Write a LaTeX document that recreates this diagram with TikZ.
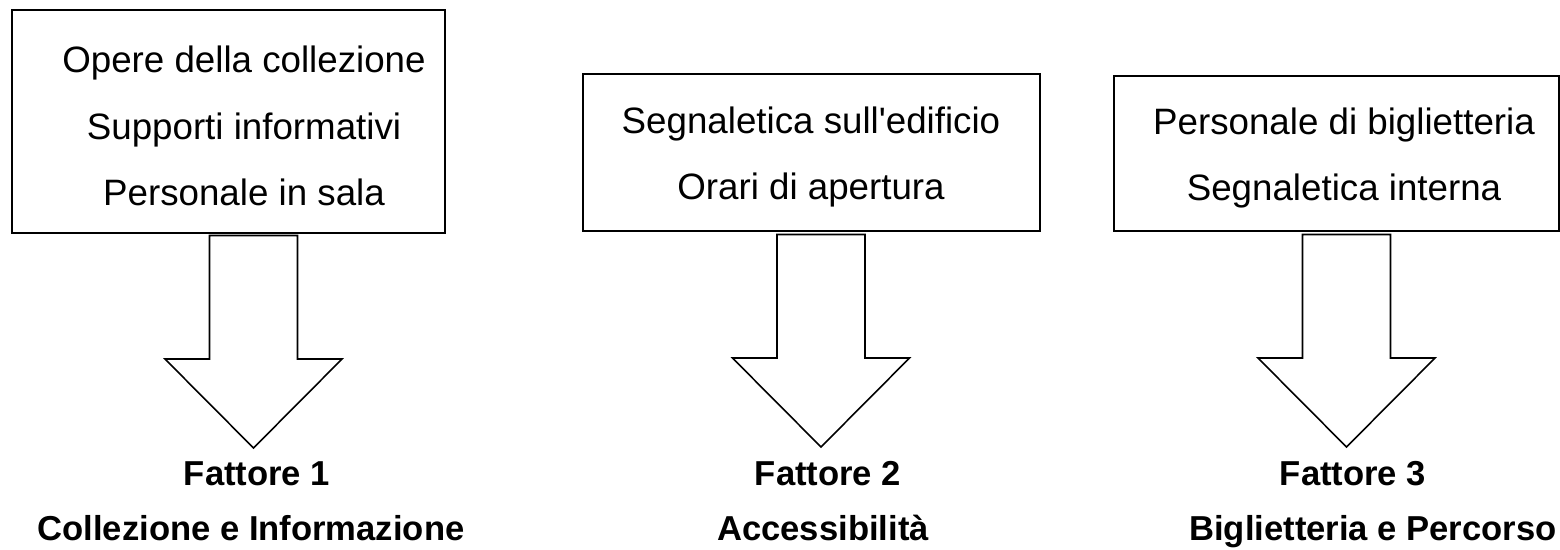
\documentclass[tikz,border=0pt]{standalone}
\usepackage{fontspec}
\setmainfont{Liberation Sans}
\usepackage{tikz}
\usetikzlibrary{positioning, calc}
\tikzset{
	listbox/.style={
			rectangle,
			draw=black,
			line width=0.9pt,
			fill=white,
			inner sep=0pt
		},
	listtext/.style={
			align=center,
			inner sep=0pt,
			font=\fontsize{20.9}{37.7}\selectfont
		},
	bigarrow/.style={
			draw=black,
			line width=0.9pt,
			fill=white,
			line join=miter
		},
	factortext/.style={
			anchor=base,
			inner sep=0pt,
			font=\fontsize{19.7}{24}\selectfont\bfseries
		}
}

\begin{document}
\begin{tikzpicture}[x=0.02cm, y=-0.02cm]
\useasboundingbox (0,0) rectangle (1560,549);

\node[listbox, minimum width=8.66cm, minimum height=4.46cm] (b1) at (228.5,121.5) {};
\node[listbox, minimum width=9.14cm, minimum height=3.14cm] (b2) at (811.5,152.5) {};
\node[listbox, minimum width=8.9cm, minimum height=3.1cm] (b3) at (1336.5,153.5) {};

\node[listtext] (t1) at (244,126)
  {Opere della collezione\\Supporti informativi\\Personale in sala};
\node[listtext] (t2) at (811,157)
  {Segnaletica sull\textquotesingle edificio\\Orari di apertura};
\node[listtext] (t3) at (1344,158)
  {Personale di biglietteria\\Segnaletica interna};

\node[factortext] (f1) at (257,485) {Fattore 1};
\node[factortext] (f2) at (828,485) {Fattore 2};
\node[factortext] (f3) at (1353,485) {Fattore 3};

\node[factortext] (n1) at (251,540) {Collezione e Informazione};
\node[factortext] (n2) at (823,540) {Accessibilità};
\node[factortext] (n3) at (1373,540) {Biglietteria e Percorso};

\coordinate (a1) at (253.5,235.5);
\coordinate (a2) at (821,234.5);
\coordinate (a3) at (1346.5,234.5);

\draw[bigarrow] (a1) ++(-44,0) -- ++(0,123.5) -- ++(-44.5,0) -- ++(88.5,89)
  -- ++(88.5,-89) -- ++(-44.5,0) -- ++(0,-123.5) -- cycle;
\draw[bigarrow] (a2) ++(-44,0) -- ++(0,123.5) -- ++(-44.5,0) -- ++(88.5,89)
  -- ++(88.5,-89) -- ++(-44.5,0) -- ++(0,-123.5) -- cycle;
\draw[bigarrow] (a3) ++(-44,0) -- ++(0,123.5) -- ++(-44.5,0) -- ++(88.5,89)
  -- ++(88.5,-89) -- ++(-44.5,0) -- ++(0,-123.5) -- cycle;
\end{tikzpicture}
\end{document}
